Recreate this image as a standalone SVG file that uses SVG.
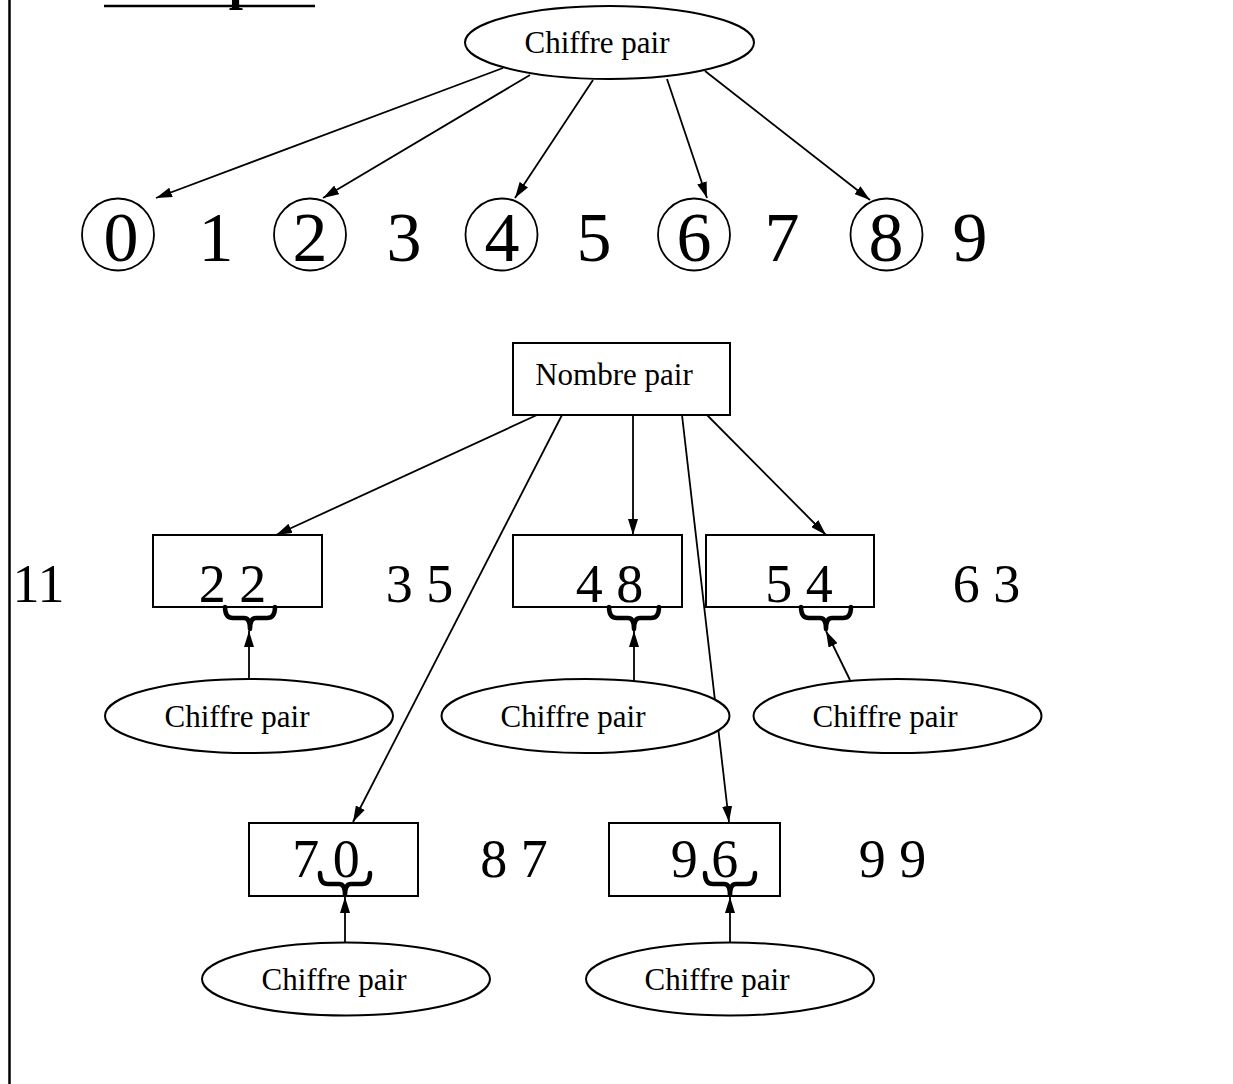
<svg xmlns="http://www.w3.org/2000/svg" width="1233" height="1084" viewBox="0 0 1233 1084">
<style>
.ln{stroke:#000;stroke-width:1.8;fill:none}
.arr{stroke:#000;stroke-width:1.8;fill:none;marker-end:url(#ah)}
.shape{fill:#fff;stroke:#000;stroke-width:2}
.lbl{font-family:"Liberation Serif","Times New Roman",serif;font-size:31px;fill:#000;text-anchor:middle}
.big{font-family:"Liberation Serif","Times New Roman",serif;font-size:70px;fill:#000;text-anchor:middle}
.num{font-family:"Liberation Serif","Times New Roman",serif;font-size:54px;fill:#000;text-anchor:middle}
.brace{fill:none;stroke:#000;stroke-width:4.5;stroke-linejoin:round;stroke-linecap:round}
</style>
<defs>
<marker id="ah" viewBox="0 0 16 10" refX="16" refY="5" markerWidth="16" markerHeight="10" markerUnits="userSpaceOnUse" orient="auto">
<path d="M0,0 L16,5 L0,10 Z" fill="#000"/>
</marker>
<path id="br" class="brace" d="M-25,0 Q-25,11 -17,11 L-6,11 Q0,11 0,22 Q0,11 6,11 L17,11 Q25,11 25,0"/>
</defs>
<rect width="1233" height="1084" fill="#fff"/>
<line x1="9.5" y1="0" x2="9.5" y2="1084" stroke="#000" stroke-width="2.5"/>
<g id="header">
<text x="104" y="-1" font-family="'Liberation Serif','Times New Roman',serif" font-weight="bold" font-size="51">Exemples :</text>
<line x1="104" y1="6" x2="315" y2="6" stroke="#000" stroke-width="2.5"/>
</g>
<g id="connectors">
<line class="arr" x1="503" y1="68" x2="156" y2="198"/>
<line class="arr" x1="530" y1="75" x2="323" y2="198"/>
<line class="arr" x1="593" y1="80" x2="515" y2="198"/>
<line class="arr" x1="667" y1="79" x2="707" y2="198"/>
<line class="arr" x1="705" y1="71" x2="870" y2="200"/>
<line class="arr" x1="537" y1="415" x2="276" y2="535"/>
<line class="arr" x1="562" y1="415" x2="353" y2="822"/>
<line class="arr" x1="633" y1="415" x2="633" y2="535"/>
<line class="arr" x1="682" y1="415" x2="729" y2="822"/>
<line class="arr" x1="707" y1="415" x2="826" y2="535"/>
<line class="arr" x1="249" y1="679" x2="249" y2="631"/>
<line class="arr" x1="634" y1="681" x2="634" y2="631"/>
<line class="arr" x1="850" y1="680" x2="826" y2="631"/>
<line class="arr" x1="345" y1="943" x2="345" y2="897"/>
<line class="arr" x1="730" y1="943" x2="730" y2="897"/>
</g>
<g id="chiffre-top">
<ellipse class="shape" cx="609.5" cy="42.5" rx="144.5" ry="36.5"/>
<text class="lbl" x="597" y="53">Chiffre pair</text>
</g>
<g id="digits">
<circle class="ln" cx="118" cy="234.5" r="36"/>
<circle class="ln" cx="310" cy="234.5" r="36"/>
<circle class="ln" cx="501.5" cy="234.5" r="36"/>
<circle class="ln" cx="694" cy="234.5" r="36"/>
<circle class="ln" cx="886.5" cy="234.5" r="36"/>
<text class="big" x="121" y="261">0</text>
<text class="big" x="216" y="261">1</text>
<text class="big" x="310" y="261">2</text>
<text class="big" x="404" y="261">3</text>
<text class="big" x="502" y="261">4</text>
<text class="big" x="594" y="261">5</text>
<text class="big" x="694" y="261">6</text>
<text class="big" x="782" y="261">7</text>
<text class="big" x="886" y="261">8</text>
<text class="big" x="970" y="261">9</text>
</g>
<g id="nombre-pair">
<rect class="shape" x="513" y="343" width="217" height="72"/>
<text class="lbl" x="614" y="385">Nombre pair</text>
</g>
<g id="n11"><text class="num" x="38.5" y="602">11</text></g>
<g id="n22">
<rect class="shape" x="153" y="535" width="169" height="72"/>
<text class="num" x="232.5" y="602">2 2</text>
<use href="#br" x="250" y="607"/>
</g>
<g id="n35"><text class="num" x="419.5" y="602">3 5</text></g>
<g id="n48">
<rect class="shape" x="513" y="535" width="169" height="72"/>
<text class="num" x="609.5" y="602">4 8</text>
<use href="#br" x="634" y="607"/>
</g>
<g id="n54">
<rect class="shape" x="706" y="535" width="168" height="72"/>
<text class="num" x="799" y="602">5 4</text>
<use href="#br" x="826" y="607"/>
</g>
<g id="n63"><text class="num" x="986.5" y="602">6 3</text></g>
<g id="chiffre-1">
<ellipse class="shape" cx="249" cy="716" rx="144" ry="37"/>
<text class="lbl" x="237" y="727">Chiffre pair</text>
</g>
<g id="chiffre-2">
<ellipse class="shape" cx="585.5" cy="716" rx="144" ry="37"/>
<text class="lbl" x="573" y="727">Chiffre pair</text>
</g>
<g id="chiffre-3">
<ellipse class="shape" cx="897.5" cy="716" rx="144" ry="37"/>
<text class="lbl" x="885" y="727">Chiffre pair</text>
</g>
<g id="n70">
<rect class="shape" x="249" y="823" width="169" height="73"/>
<text class="num" x="326" y="877">7 0</text>
<use href="#br" x="345" y="873"/>
</g>
<g id="n87"><text class="num" x="514" y="877">8 7</text></g>
<g id="n96">
<rect class="shape" x="609" y="823" width="171" height="73"/>
<text class="num" x="704.5" y="877">9 6</text>
<use href="#br" x="730" y="873"/>
</g>
<g id="n99"><text class="num" x="892.5" y="877">9 9</text></g>
<g id="chiffre-4">
<ellipse class="shape" cx="346" cy="979" rx="144" ry="36.5"/>
<text class="lbl" x="334" y="990">Chiffre pair</text>
</g>
<g id="chiffre-5">
<ellipse class="shape" cx="730" cy="979" rx="144" ry="36.5"/>
<text class="lbl" x="717" y="990">Chiffre pair</text>
</g>
</svg>
